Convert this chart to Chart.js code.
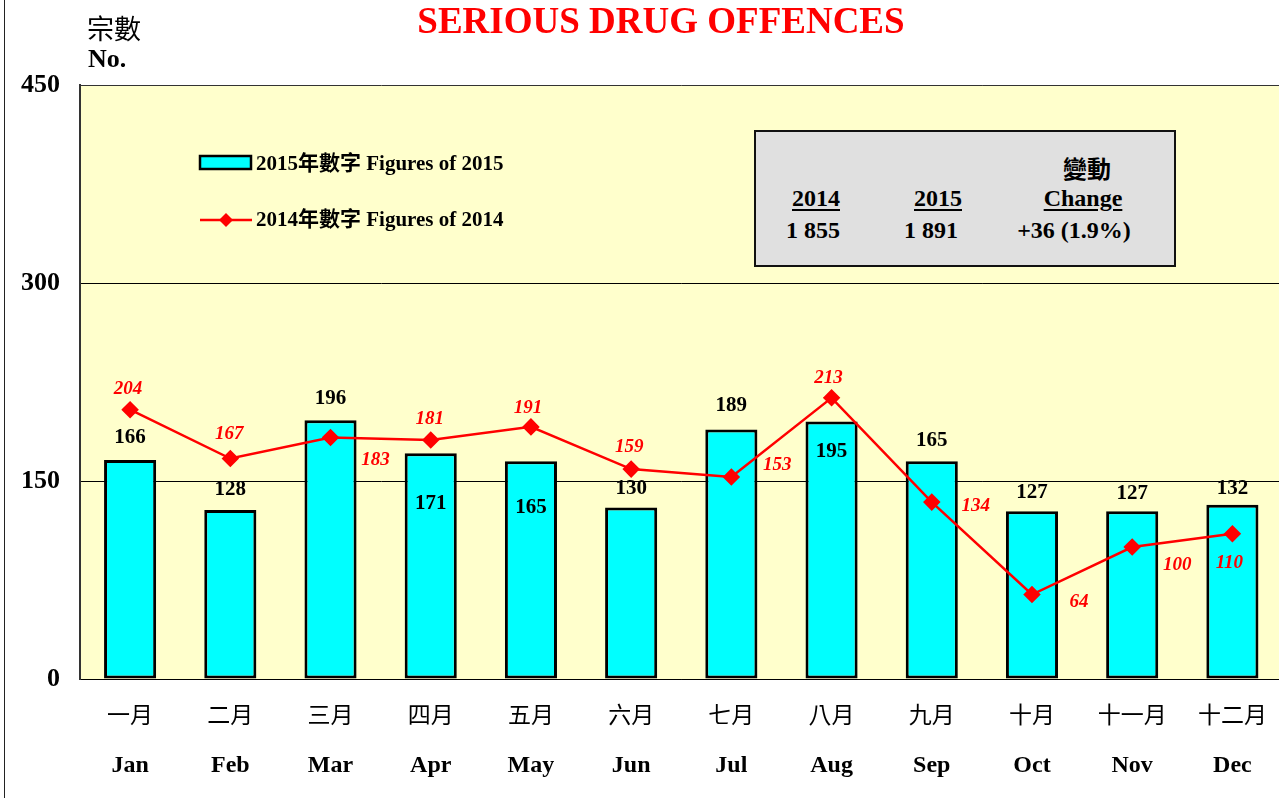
<!DOCTYPE html>
<html>
<head>
<meta charset="utf-8">
<script src="https://cdn.jsdelivr.net/npm/chart.js@4"></script>
<style>
  html, body { margin: 0; padding: 0; background: #fff; overflow: hidden; }
  #wrap { position: relative; width: 1292px; height: 798px; }
  #marco { position: absolute; left: 4px; top: 0; width: 1px; height: 798px; background: #222; }
  .t { position: absolute; font-family: 'Liberation Serif', 'Noto Sans CJK TC', serif; font-weight: bold; color: #000; white-space: nowrap; }
  #titulo { left: 0; width: 1322px; top: 0; text-align: center; color: #ff0000; font-size: 37px; line-height: 42px; }
  #unidad1 { left: 87px; top: 8px; font-size: 27px; font-weight: normal; font-family: 'Noto Sans CJK TC', serif; }
  #unidad2 { left: 88px; top: 44px; font-size: 26px; }
  #caja { position: absolute; left: 754px; top: 130px; width: 418px; height: 133px; background: #e0e0e0; border: 2px solid #111; }
  #caja .t { font-size: 24px; transform: translateX(-50%); }
  #caja u { text-decoration-thickness: 2px; text-underline-offset: 3px; }
</style>
</head>
<body>
<div id="wrap">
  <canvas id="grafica" width="1292" height="798"></canvas>
  <div id="marco"></div>
  <div class="t" id="titulo">SERIOUS DRUG OFFENCES</div>
  <div class="t" id="unidad1">宗數</div>
  <div class="t" id="unidad2">No.</div>
  <div id="caja">
    <div class="t" style="left:331px; top:18px; font-family:'Noto Sans CJK TC'; font-size:24px;">變動</div>
    <div class="t" style="left:60px; top:53px;"><u>2014</u></div>
    <div class="t" style="left:182px; top:53px;"><u>2015</u></div>
    <div class="t" style="left:327px; top:53px;"><u>Change</u></div>
    <div class="t" style="left:57px; top:85px;">1 855</div>
    <div class="t" style="left:175px; top:85px;">1 891</div>
    <div class="t" style="left:318px; top:85px;">+36 (1.9%)</div>
  </div>
</div>
<script>
// Datos
const mesesZh = ['一月', '二月', '三月', '四月', '五月', '六月', '七月', '八月', '九月', '十月', '十一月', '十二月'];
const mesesEn = ['Jan', 'Feb', 'Mar', 'Apr', 'May', 'Jun', 'Jul', 'Aug', 'Sep', 'Oct', 'Nov', 'Dec'];
const cifras2015 = [166, 128, 196, 171, 165, 130, 189, 195, 165, 127, 127, 132];
const cifras2014 = [204, 167, 183, 181, 191, 159, 153, 213, 134, 64, 100, 110];
const ticksY = [0, 150, 300, 450];

// Colocación de las etiquetas (desplazamiento en px respecto a la marca)
const dyBarra = [-22, -20, -22, 50, 46, -19, -24, 30, -21, -19, -18, -16];
const dxLinea = [-2, -1, 45, -1, -3, -2, 46, -3, 44, 47, 45, -3];
const dyLinea = [-21, -24, 23, -21, -19, -22, -12, -20, 4, 8, 18, 29];

const SERIF = "'Liberation Serif', 'Noto Sans CJK TC', serif";
const AMARILLO = '#ffffcc';
const CIAN = '#00ffff';
const ROJO = '#ff0000';

const fondo = {
  id: 'fondo',
  beforeDraw(chart) {
    const { ctx, chartArea: a } = chart;
    ctx.save();
    ctx.fillStyle = AMARILLO;
    ctx.fillRect(a.left, a.top, a.right - a.left, a.bottom - a.top);
    ctx.restore();
  }
};

const etiquetas = {
  id: 'etiquetas',
  afterDatasetsDraw(chart) {
    const { ctx } = chart;
    const barras = chart.getDatasetMeta(0).data;
    const puntos = chart.getDatasetMeta(1).data;
    ctx.save();
    ctx.textAlign = 'center';
    ctx.textBaseline = 'middle';
    ctx.fillStyle = '#000';
    ctx.font = 'bold 21px ' + SERIF;
    barras.forEach((b, i) => ctx.fillText(cifras2015[i], b.x, b.y + dyBarra[i]));
    ctx.fillStyle = ROJO;
    ctx.font = 'italic bold 19px ' + SERIF;
    puntos.forEach((p, i) => ctx.fillText(cifras2014[i], p.x + dxLinea[i], p.y + dyLinea[i]));

    // Eje X: meses en chino e inglés
    const x = chart.scales.x;
    ctx.fillStyle = '#000';
    mesesZh.forEach((m, i) => {
      const px = x.getPixelForValue(i);
      ctx.font = '23px ' + SERIF;
      ctx.fillText(m, px, 717);
      ctx.font = 'bold 24px ' + SERIF;
      ctx.fillText(mesesEn[i], px, 766);
    });

    // Leyenda dentro del área
    const ds = chart.data.datasets;
    ctx.font = 'bold 21px ' + SERIF;
    ctx.textAlign = 'left';
    ctx.fillStyle = CIAN;
    ctx.fillRect(200, 156, 51, 13);
    ctx.strokeStyle = '#000';
    ctx.lineWidth = 2.5;
    ctx.strokeRect(200, 156, 51, 13);
    ctx.fillStyle = '#000';
    ctx.fillText(ds[0].label, 256, 165);
    ctx.strokeStyle = ROJO;
    ctx.lineWidth = 2.5;
    ctx.beginPath();
    ctx.moveTo(200, 220);
    ctx.lineTo(252, 220);
    ctx.stroke();
    ctx.fillStyle = ROJO;
    ctx.beginPath();
    ctx.moveTo(226, 213); ctx.lineTo(233, 220); ctx.lineTo(226, 227); ctx.lineTo(219, 220);
    ctx.closePath();
    ctx.fill();
    ctx.fillStyle = '#000';
    ctx.fillText(ds[1].label, 256, 221);
    ctx.restore();
  }
};

new Chart(document.getElementById('grafica'), {
  data: {
    labels: mesesEn,
    datasets: [
      {
        type: 'bar', label: '2015年數字 Figures of 2015', data: cifras2015,
        backgroundColor: CIAN, borderColor: '#000', borderWidth: 3, borderSkipped: false,
        categoryPercentage: 1, barPercentage: 0.52, order: 2
      },
      {
        type: 'line', label: '2014年數字 Figures of 2014', data: cifras2014,
        borderColor: ROJO, borderWidth: 2.5, backgroundColor: ROJO,
        pointStyle: 'rectRot', pointRadius: 7, pointHoverRadius: 7, tension: 0, order: 1
      }
    ]
  },
  options: {
    responsive: false,
    animation: false,
    layout: { padding: { top: 85, left: 0, right: 0, bottom: 0 } },
    plugins: { legend: { display: false }, tooltip: { enabled: false } },
    scales: {
      x: {
        grid: { display: false },
        border: { display: true, color: '#000', width: 1 },
        ticks: { display: false },
        afterFit(s) { s.height = 119; }
      },
      y: {
        min: 0, max: 450,
        afterBuildTicks(s) { s.ticks = ticksY.map(v => ({ value: v })); },
        grid: { color: (c) => c.tick.value === 450 ? '#333' : '#000', lineWidth: 1, drawTicks: false },
        border: { display: true, color: '#333', width: 2 },
        ticks: { font: { family: SERIF, size: 26, weight: 'bold' }, color: '#000', padding: 20 },
        afterFit(s) { s.width = 80; }
      }
    }
  },
  plugins: [fondo, etiquetas]
});
</script>
</body>
</html>
